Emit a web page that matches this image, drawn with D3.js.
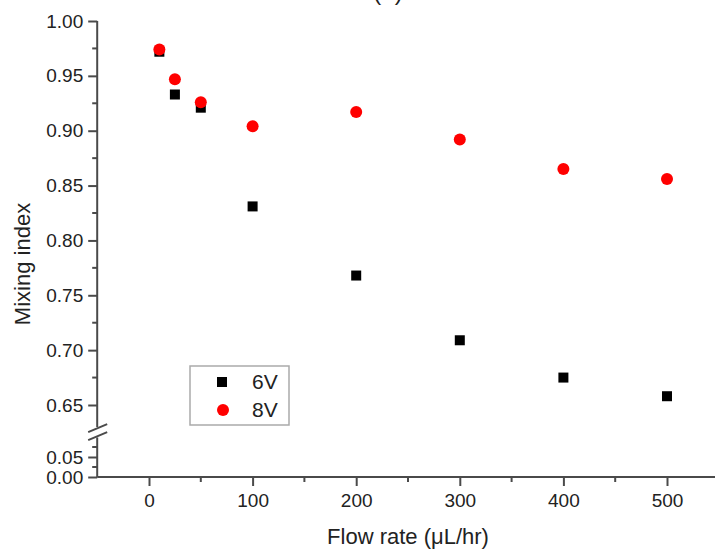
<!DOCTYPE html>
<html>
<head>
<meta charset="UTF-8">
<title></title>
<script src="https://cdn.jsdelivr.net/npm/d3@7"></script>
<style>
  body { margin: 0; background: #fff; }
  text { font-family: "Liberation Sans", Arial, sans-serif; fill: #222; }
</style>
</head>
<body>
<div id="chart"></div>
<script>
// data
var flowRates = [10, 25, 50, 100, 200, 300, 400, 500];
var mix6V = [0.972, 0.933, 0.921, 0.831, 0.768, 0.709, 0.675, 0.658];
var mix8V = [0.974, 0.947, 0.926, 0.904, 0.917, 0.892, 0.865, 0.856];
var xTicks = [0, 100, 200, 300, 400, 500];
var yTicksTop = [0.65, 0.70, 0.75, 0.80, 0.85, 0.90, 0.95, 1.00];
var yTicksBot = [0.00, 0.05];

var width = 715, height = 553;
var axisColor = "#4a4a4a";

var svg = d3.select("#chart").append("svg")
  .attr("width", width).attr("height", height);

// scales
var x = d3.scaleLinear().domain([0, 500]).range([149, 667]);
var yTop = d3.scaleLinear().domain([0.65, 1.0]).range([405, 21]);
var yBot = d3.scaleLinear().domain([0, 0.05]).range([477, 457]);

var xLeft = x(-50), xRight = x(550);

// title (cut off at the top, as in the original)
svg.append("text").attr("x", 388).attr("y", 0)
  .attr("text-anchor", "middle").style("font-size", "24px").text("(a)");

// x axis
var xAxis = d3.axisBottom(x).tickValues(xTicks).tickSize(9).tickSizeOuter(0).tickPadding(8);
var gx = svg.append("g").attr("transform", "translate(0," + yBot(0) + ")").call(xAxis);
gx.select(".domain").remove();
gx.selectAll(".tick text").style("font-size", "19px");
svg.append("line").attr("x1", xLeft).attr("x2", xRight)
  .attr("y1", yBot(0)).attr("y2", yBot(0));
// minor x ticks
svg.selectAll(".xminor").data(d3.range(50, 551, 100)).enter().append("line")
  .attr("x1", function(d){ return x(d); }).attr("x2", function(d){ return x(d); })
  .attr("y1", yBot(0)).attr("y2", yBot(0) + 5);

// y axis top segment
var gyT = svg.append("g").attr("transform", "translate(" + xLeft + ",0)")
  .call(d3.axisLeft(yTop).tickValues(yTicksTop).tickSize(9).tickSizeOuter(0).tickPadding(5).tickFormat(d3.format(".2f")));
gyT.select(".domain").remove();
gyT.selectAll(".tick text").style("font-size", "19px");
svg.append("line").attr("x1", xLeft).attr("x2", xLeft)
  .attr("y1", yTop(1.0)).attr("y2", yTop(0.63));
svg.selectAll(".ytminor").data(d3.range(0.675, 1.0, 0.05)).enter().append("line")
  .attr("x1", xLeft - 5).attr("x2", xLeft)
  .attr("y1", function(d){ return yTop(d); }).attr("y2", function(d){ return yTop(d); });

// y axis bottom segment
var gyB = svg.append("g").attr("transform", "translate(" + xLeft + ",0)")
  .call(d3.axisLeft(yBot).tickValues(yTicksBot).tickSize(9).tickSizeOuter(0).tickPadding(5).tickFormat(d3.format(".2f")));
gyB.select(".domain").remove();
gyB.selectAll(".tick text").style("font-size", "19px");
svg.append("line").attr("x1", xLeft).attr("x2", xLeft)
  .attr("y1", yBot(0)).attr("y2", yBot(0.099));
svg.selectAll(".ybminor").data([0.025, 0.075]).enter().append("line")
  .attr("x1", xLeft - 5).attr("x2", xLeft)
  .attr("y1", function(d){ return yBot(d); }).attr("y2", function(d){ return yBot(d); });

// break marks
var bm = (yTop(0.63) + yBot(0.099)) / 2;
[-4, 4].forEach(function(o){
  svg.append("line").attr("x1", xLeft - 9).attr("x2", xLeft + 10)
    .attr("y1", bm + o + 4).attr("y2", bm + o - 4);
});

svg.selectAll("line").attr("stroke", axisColor).attr("stroke-width", 2);
svg.selectAll(".tick line").attr("stroke", axisColor).attr("stroke-width", 2);

// axis titles
svg.append("text").attr("x", 408).attr("y", 544).attr("text-anchor", "middle")
  .style("font-size", "22px").text("Flow rate (\u03BCL/hr)");
svg.append("text").attr("transform", "translate(30,264) rotate(-90)")
  .attr("text-anchor", "middle").style("font-size", "22px").text("Mixing index");

// data points
var pts6 = flowRates.map(function(f, i){ return [f, mix6V[i]]; });
var pts8 = flowRates.map(function(f, i){ return [f, mix8V[i]]; });
svg.selectAll(".s6").data(pts6).enter().append("rect")
  .attr("x", function(d){ return x(d[0]) - 5; })
  .attr("y", function(d){ return yTop(d[1]) - 5; })
  .attr("width", 10).attr("height", 10).attr("fill", "#000");
svg.selectAll(".s8").data(pts8).enter().append("circle")
  .attr("cx", function(d){ return x(d[0]); })
  .attr("cy", function(d){ return yTop(d[1]); })
  .attr("r", 6).attr("fill", "#ff0000");

// legend
var lg = svg.append("g").attr("transform", "translate(190,366)");
lg.append("rect").attr("width", 99).attr("height", 59)
  .attr("fill", "#fff").attr("stroke", "#aaa").attr("stroke-width", 1.5);
lg.append("rect").attr("x", 27).attr("y", 11).attr("width", 10).attr("height", 10).attr("fill", "#000");
lg.append("circle").attr("cx", 33).attr("cy", 44).attr("r", 6).attr("fill", "#ff0000");
lg.append("text").attr("x", 62).attr("y", 23).style("font-size", "21px").text("6V");
lg.append("text").attr("x", 62).attr("y", 51).style("font-size", "21px").text("8V");
</script>
</body>
</html>
